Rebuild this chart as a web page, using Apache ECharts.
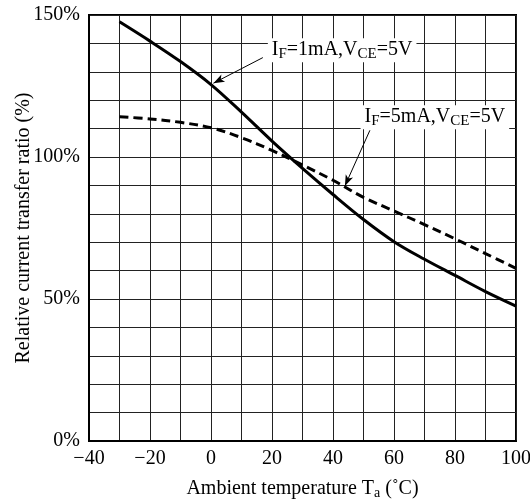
<!DOCTYPE html>
<html>
<head>
<meta charset="utf-8">
<script src="https://cdn.jsdelivr.net/npm/echarts@6/dist/echarts.min.js"></script>
<style>html,body{margin:0;padding:0;background:#fff;}#c{width:530px;height:504px;}</style>
</head>
<body>
<div id="c"></div>
<script>
// Data
const temps = [-30, -20, -10, 0, 10, 20, 30, 40, 50, 60, 70, 80, 90, 100];
const ctr1mA = [147.6, 140.8, 133.6, 125.5, 115.8, 105.6, 96.0, 86.8, 78.0, 70.2, 64.0, 58.3, 52.6, 47.5];
const ctr5mA = [114.2, 113.4, 112.2, 110.3, 106.8, 102.3, 97.2, 91.8, 85.8, 81.0, 76.2, 71.2, 66.0, 60.8];
const xLabels = [-40, -20, 0, 20, 40, 60, 80, 100];
const yLabels = [0, 50, 100, 150];
const label1 = { box: [43, 137.6], tail: [17.0, 135.0], head: [0.8, 126.0] };
const label5 = { box: [73.4, 114.0], tail: [52.1, 109.4], head: [43.9, 89.8] };

const FONT = 'Liberation Serif';
const chart = echarts.init(document.getElementById('c'), null, { renderer: 'canvas' });

function pairs(xs, ys) { return xs.map((x, i) => [x, ys[i]]); }
function richLabel(cur) {
  return '{n|I}{s|F}{n|=' + cur + ',V}{s|CE}{n|=5V}';
}
const richStyle = {
  n: { fontFamily: FONT, fontSize: 20, lineHeight: 22, color: '#000' },
  s: { fontFamily: FONT, fontSize: 15, lineHeight: 12, verticalAlign: 'bottom', color: '#000' }
};
function annot(lab, cur) {
  return {
    markPoint: {
      symbol: 'rect', symbolSize: 0, silent: true, animation: false,
      data: [{ coord: lab.box }],
      label: {
        show: true, position: 'inside', formatter: richLabel(cur), rich: richStyle,
        backgroundColor: '#fff', padding: [1, 4, 1, 4]
      }
    },
    markLine: {
      silent: true, animation: false,
      symbol: ['none', 'arrow'], symbolSize: [6, 11],
      lineStyle: { color: '#000', width: 1, type: 'solid' },
      label: { show: false },
      data: [[{ coord: lab.tail }, { coord: lab.head }]]
    }
  };
}

chart.setOption({
  animation: false,
  backgroundColor: '#fff',
  grid: {
    left: 89, right: 14, top: 15, bottom: 63, outerBoundsMode: 'none', containLabel: false,
    show: true, borderColor: '#000', borderWidth: 2, backgroundColor: 'transparent'
  },
  xAxis: {
    type: 'value', min: -40, max: 100, interval: 10,
    name: 'Ambient temperature {n|T}{s|a}{n| (˚C)}',
    nameLocation: 'middle', nameGap: 37, nameMoveOverlap: false,
    nameTextStyle: {
      fontFamily: FONT, fontSize: 20, color: '#000',
      rich: {
        n: { fontFamily: FONT, fontSize: 20, lineHeight: 22, color: '#000' },
        s: { fontFamily: FONT, fontSize: 14, lineHeight: 12, verticalAlign: 'bottom', color: '#000' }
      }
    },
    axisLine: { show: true, onZero: false, lineStyle: { color: '#000', width: 2 } },
    axisTick: { show: false },
    splitLine: { show: true, lineStyle: { color: '#222', width: 1 } },
    axisLabel: {
      fontFamily: FONT, fontSize: 20, color: '#000', margin: 8,
      formatter: v => xLabels.indexOf(v) >= 0 ? (v < 0 ? '\u2212' + Math.abs(v) : String(v)) : ''
    }
  },
  yAxis: {
    type: 'value', min: 0, max: 150, interval: 10,
    name: 'Relative current transfer ratio (%)',
    nameLocation: 'middle', nameGap: 55, nameMoveOverlap: false,
    nameTextStyle: { fontFamily: FONT, fontSize: 20, color: '#000' },
    axisLine: { show: true, onZero: false, lineStyle: { color: '#000', width: 2 } },
    axisTick: { show: false },
    splitLine: { show: true, lineStyle: { color: '#222', width: 1 } },
    axisLabel: {
      fontFamily: FONT, fontSize: 20, color: '#000', margin: 9,
      formatter: v => yLabels.indexOf(v) >= 0 ? v + '%' : ''
    }
  },
  series: [
    Object.assign({
      name: 'IF=1mA', type: 'line', data: pairs(temps, ctr1mA), smooth: 0.35,
      showSymbol: false, lineStyle: { color: '#000', width: 3, type: 'solid' }, z: 3
    }, annot(label1, '1mA')),
    Object.assign({
      name: 'IF=5mA', type: 'line', data: pairs(temps, ctr5mA), smooth: 0.35,
      showSymbol: false, lineStyle: { color: '#000', width: 3, type: [9, 5] }, z: 3
    }, annot(label5, '5mA'))
  ]
});
</script>
</body>
</html>
